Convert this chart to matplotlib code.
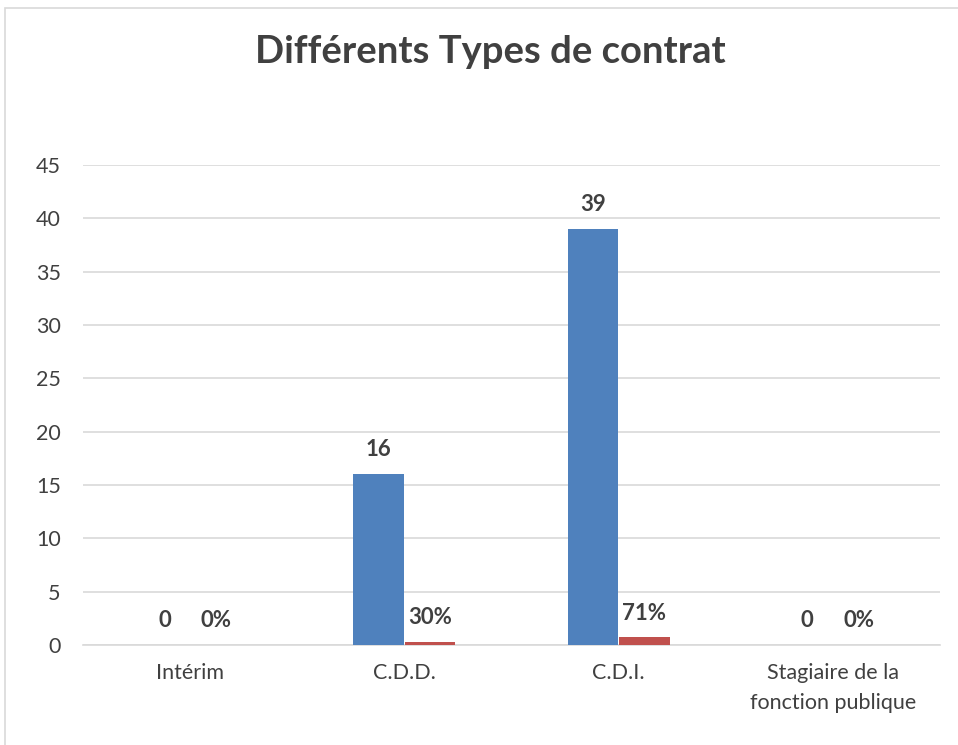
import matplotlib
matplotlib.use("Agg")
import matplotlib.pyplot as plt
import numpy as np
from matplotlib.patches import Rectangle

categories = ["Intérim", "C.D.D.", "C.D.I.", "Stagiaire de la\nfonction publique"]
counts = [0, 16, 39, 0]
percents = [0.0, 0.30, 0.71, 0.0]
count_labels = ["0", "16", "39", "0"]
percent_labels = ["0%", "30%", "71%", "0%"]
yticks = [0, 5, 10, 15, 20, 25, 30, 35, 40, 45]

plt.rcParams['font.family'] = ['Lato', 'DejaVu Sans']

fig = plt.figure(figsize=(9.58, 7.45), dpi=100)
ax = fig.add_axes([83/958, 1-645/745, (940-83)/958, (645-165)/745])

x = np.arange(len(categories))
w = 0.235
off = 0.12
b1 = ax.bar(x - off, counts, w, color="#4F81BD", zorder=3)
b2 = ax.bar(x + off, percents, w, color="#C0504D", zorder=3)

txtc = "#404040"
for xi, v, lab in zip(x, counts, count_labels):
    ax.annotate(lab, (xi - off, v), xytext=(0, 10), textcoords="offset points",
                ha="center", va="bottom", fontsize=16, fontweight="bold", color=txtc)
for xi, v, lab in zip(x, percents, percent_labels):
    ax.annotate(lab, (xi + off, v), xytext=(0, 10), textcoords="offset points",
                ha="center", va="bottom", fontsize=16, fontweight="bold", color=txtc)

ax.set_xlim(-0.5, 3.5)
ax.set_ylim(0, 45)
ax.set_yticks(yticks)
ax.set_xticks(x)
ax.set_xticklabels(categories, linespacing=1.6)
ax.tick_params(axis="both", length=0, labelsize=15.5, colors=txtc)
ax.tick_params(axis="x", pad=13)
ax.tick_params(axis="y", pad=16)
ax.grid(axis="y", color="#D9D9D9", linewidth=1.2, zorder=0)
for s in ["top", "right", "left"]:
    ax.spines[s].set_visible(False)
ax.spines["bottom"].set_color("#D9D9D9")
ax.spines["bottom"].set_linewidth(1.2)

fig.text(490/958, 1-52/745, "Différents Types de contrat", ha="center", va="center",
         fontsize=27.5, fontweight="bold", color=txtc)

fig.patches.append(Rectangle((5/958, -0.01), 1.0, 1-8/745+0.01, transform=fig.transFigure,
                             fill=False, edgecolor="#D9D9D9", linewidth=1.2))

fig.savefig("out.png", dpi=100)
